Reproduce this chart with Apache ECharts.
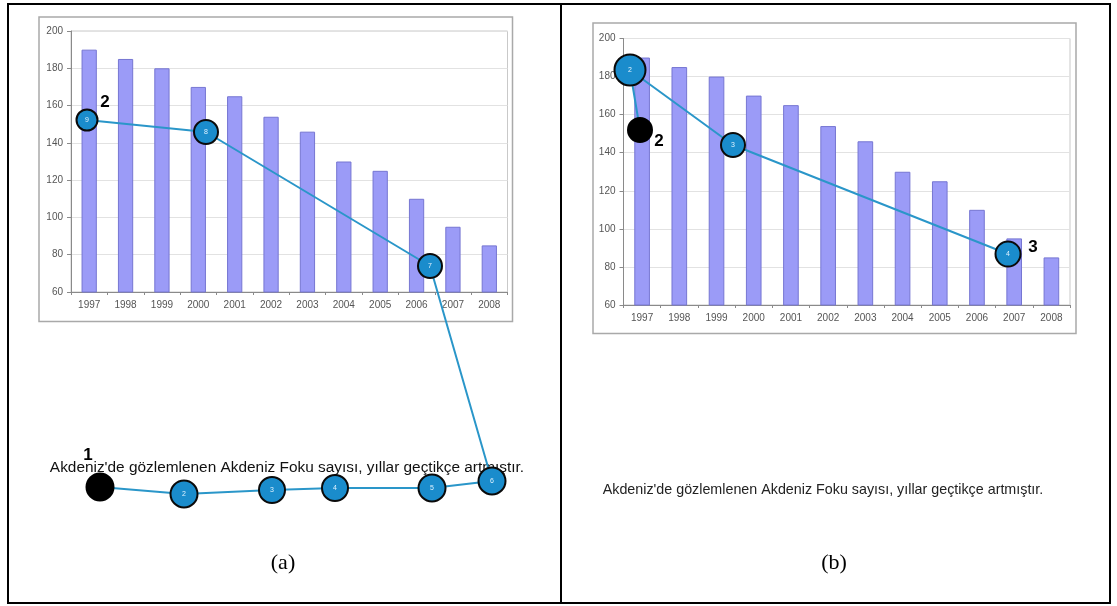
<!DOCTYPE html>
<html>
<head>
<meta charset="utf-8">
<script src="https://cdn.jsdelivr.net/npm/echarts@6/dist/echarts.min.js"></script>
<style>
  html, body { margin: 0; padding: 0; background: #fff; }
  #chart { width: 1117px; height: 606px; }
</style>
</head>
<body>
<div id="chart"></div>
<script>
// Yearly counts shown in both bar charts
const years = ['1997','1998','1999','2000','2001','2002','2003','2004','2005','2006','2007','2008'];
const counts = [190, 185, 180, 170, 165, 154, 146, 130, 125, 110, 95, 85];
const yMin = 60, yMax = 200, yStep = 20;

// Sentence shown under each chart
const sentence = "Akdeniz'de gözlemlenen Akdeniz Foku sayısı, yıllar geçtikçe artmıştır.";

// Eye-tracking scanpaths, in screen pixels (x right, y down)
// Panel (a): fixation order 1..9, circle size ~ fixation duration
const gazeAx = [100, 184, 272, 335, 432, 492, 430, 206, 87];
const gazeAy = [487, 494, 490, 488, 488, 481, 266, 132, 120];
const gazeAsize = [27, 27, 26, 26, 27, 27, 24, 24, 21];
// Panel (b): fixation order 1..4
const gazeBx = [640, 630, 733, 1008];
const gazeBy = [130, 70, 145, 254];
const gazeBsize = [24, 31, 24, 25];

// Area-of-interest entry numbers written beside the scanpaths
const aoiLabels = [
  { text: '1', x: 88, y: 455 },
  { text: '2', x: 105, y: 102 },
  { text: '2', x: 659, y: 141 },
  { text: '3', x: 1033, y: 247 }
];

const W = 1117, H = 606;
const chart = echarts.init(document.getElementById('chart'), null, { renderer: 'canvas', width: W, height: H });

const axisFont = 'Liberation Sans Narrow, Arial Narrow, Liberation Sans, Arial, sans-serif';

function barGrid(left, top, width, height) {
  return { left, top, width, height, show: true, borderColor: '#c9c9c9', borderWidth: 1, backgroundColor: 'transparent' };
}
function catAxis(gi) {
  return {
    type: 'category', gridIndex: gi, data: years,
    axisLine: { lineStyle: { color: '#8a8a8a', width: 1 } },
    axisTick: { show: true, length: 3, lineStyle: { color: '#8a8a8a' } },
    axisLabel: { fontSize: 10, color: '#555', fontFamily: axisFont, margin: 8 },
    splitLine: { show: false }
  };
}
function valAxis(gi) {
  return {
    type: 'value', gridIndex: gi, min: yMin, max: yMax, interval: yStep,
    axisLine: { show: true, lineStyle: { color: '#8a8a8a', width: 1 } },
    axisTick: { show: true, length: 4, lineStyle: { color: '#8a8a8a' } },
    axisLabel: { fontSize: 10, color: '#555', fontFamily: axisFont, margin: 8 },
    splitLine: { show: true, lineStyle: { color: '#e2e2e2', width: 1 } }
  };
}
function barSeries(gi) {
  return {
    type: 'bar', xAxisIndex: gi, yAxisIndex: gi, data: counts, barWidth: '42%',
    itemStyle: { color: '#9b9bf7', borderColor: '#7676d2', borderWidth: 1 },
    silent: true, z: 2
  };
}
function pathSeries(xs, ys) {
  return {
    type: 'line', xAxisIndex: 2, yAxisIndex: 2,
    data: xs.map((x, i) => [x, ys[i]]),
    symbol: 'none', lineStyle: { color: '#2a96c9', width: 2 },
    silent: true, z: 5
  };
}
function fixationSeries(xs, ys, sizes) {
  return {
    type: 'scatter', xAxisIndex: 2, yAxisIndex: 2,
    data: xs.map((x, i) => ({
      value: [x, ys[i], sizes[i]],
      itemStyle: i === 0 ? { color: '#000', borderColor: '#000', borderWidth: 2, opacity: 1 }
                         : { color: '#1a8ccc', borderColor: '#0a0a0a', borderWidth: 2, opacity: 1 }
    })),
    symbol: 'circle',
    symbolSize: v => v[2],
    label: {
      show: true, position: 'inside', color: '#dff2ff', fontSize: 7,
      fontFamily: 'Arial, sans-serif',
      formatter: p => p.dataIndex === 0 ? '' : String(p.dataIndex + 1)
    },
    silent: true, z: 6
  };
}

const option = {
  animation: false,
  backgroundColor: '#fff',
  grid: [
    barGrid(71, 31, 436.5, 261),
    barGrid(623.5, 38.5, 446.5, 266.5),
    { left: 0, top: 0, width: W, height: H, show: false }
  ],
  xAxis: [
    catAxis(0), catAxis(1),
    { type: 'value', gridIndex: 2, min: 0, max: W, show: false }
  ],
  yAxis: [
    valAxis(0), valAxis(1),
    { type: 'value', gridIndex: 2, min: 0, max: H, inverse: true, show: false }
  ],
  graphic: [
    // outer frame and panel divider
    { type: 'rect', shape: { x: 8, y: 4, width: 1102, height: 599 }, style: { fill: 'none', stroke: '#000', lineWidth: 2 }, z: 0 },
    { type: 'line', shape: { x1: 561, y1: 4, x2: 561, y2: 603 }, style: { stroke: '#000', lineWidth: 2 }, z: 0 },
    // chart frames
    { type: 'rect', shape: { x: 39, y: 17, width: 473.5, height: 304.5 }, style: { fill: 'none', stroke: '#a9a9a9', lineWidth: 1.5 }, z: 0 },
    { type: 'rect', shape: { x: 593, y: 23, width: 483, height: 310.5 }, style: { fill: 'none', stroke: '#a9a9a9', lineWidth: 1.5 }, z: 0 },
    // sentences
    { type: 'text', x: 287, y: 468, style: { text: sentence, fill: '#111', font: '15.4px "Liberation Sans", Arial, sans-serif', textAlign: 'center', textVerticalAlign: 'middle' }, z: 1 },
    { type: 'text', x: 823, y: 490, style: { text: sentence, fill: '#222', font: '14.3px "Liberation Sans", Arial, sans-serif', textAlign: 'center', textVerticalAlign: 'middle' }, z: 1 },
    // captions
    { type: 'text', x: 283, y: 563, style: { text: '(a)', fill: '#000', font: '22px "Liberation Serif", "Times New Roman", serif', textAlign: 'center', textVerticalAlign: 'middle' }, z: 1 },
    { type: 'text', x: 834, y: 563, style: { text: '(b)', fill: '#000', font: '22px "Liberation Serif", "Times New Roman", serif', textAlign: 'center', textVerticalAlign: 'middle' }, z: 1 }
  ].concat(aoiLabels.map(l => ({
    type: 'text', x: l.x, y: l.y,
    style: { text: l.text, fill: '#000', font: 'bold 17px "Liberation Sans", Arial, sans-serif', textAlign: 'center', textVerticalAlign: 'middle' },
    z: 10
  }))),
  series: [
    barSeries(0), barSeries(1),
    pathSeries(gazeAx, gazeAy), fixationSeries(gazeAx, gazeAy, gazeAsize),
    pathSeries(gazeBx, gazeBy), fixationSeries(gazeBx, gazeBy, gazeBsize)
  ]
};
chart.setOption(option);
</script>
</body>
</html>
